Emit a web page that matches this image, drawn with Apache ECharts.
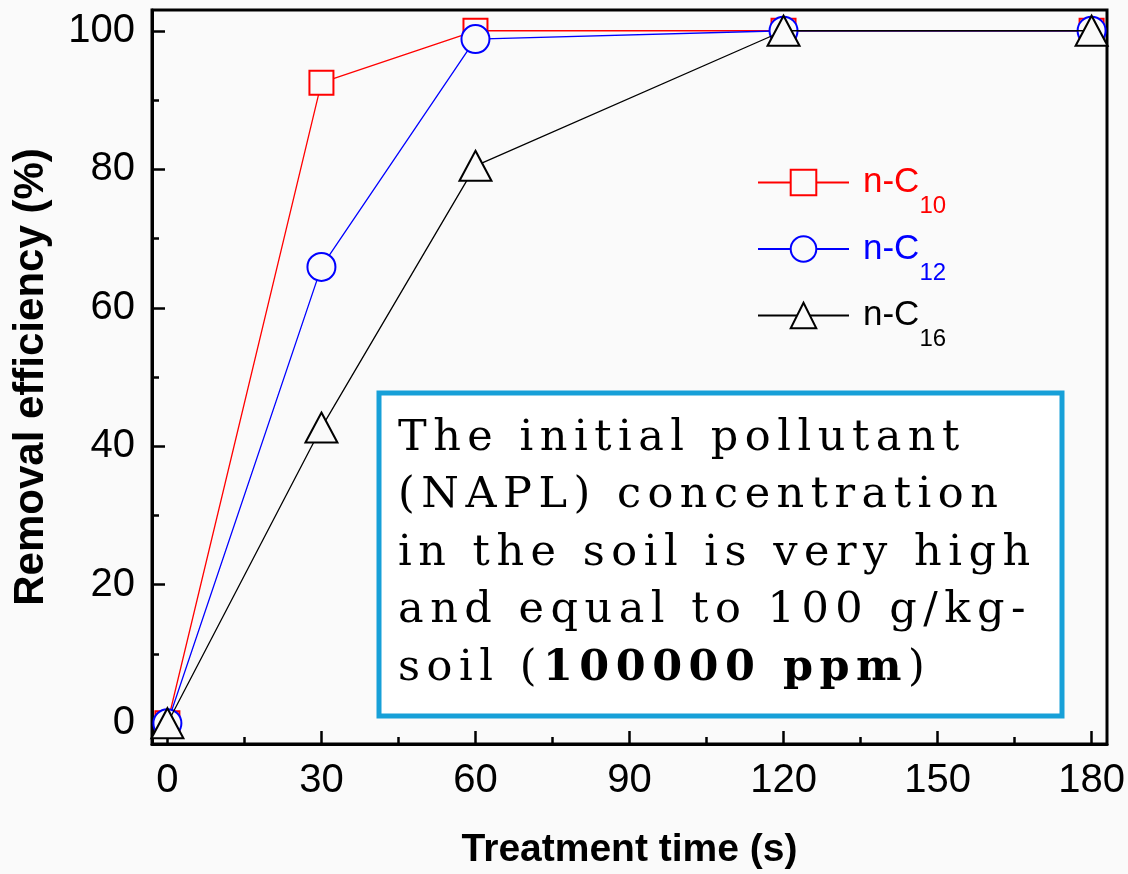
<!DOCTYPE html>
<html>
<head>
<meta charset="utf-8">
<title>Removal efficiency vs treatment time</title>
<script src="https://cdn.jsdelivr.net/npm/echarts@6/dist/echarts.min.js"></script>
<style>
  html, body { margin: 0; padding: 0; background: #fafafa; }
  #chart { width: 1128px; height: 874px; }
</style>
</head>
<body>
<div id="chart"></div>
<script>
// Treatment times (s) and removal efficiency (%) for each alkane
const times = [0, 30, 60, 120, 180];
const nC10 = [0, 92.5, 100, 100, 100];
const nC12 = [0, 65.9, 98.8, 100, 100];
const nC16 = [0, 42.7, 80.5, 100, 100];

const seriesNames = ['n-C10', 'n-C12', 'n-C16'];
const seriesSubs = ['10', '12', '16'];

// Tick positions
const xMajor = [0, 30, 60, 90, 120, 150, 180];
const xMinor = [15, 45, 75, 105, 135, 165];
const yMajor = [0, 20, 40, 60, 80, 100];
const yMinor = [10, 30, 50, 70, 90];

const noteLines = [
  'The initial pollutant',
  '(NAPL) concentration',
  'in the soil is very high',
  'and equal to 100 g/kg-',
  'soil ({b|100000 ppm})'
];

// The note is set with wide tracking; apply canvas letter spacing to its font only
const NOTE_FONT = 'DejaVu Serif';
const NOTE_TRACKING = '6.5px';
(function () {
  const proto = CanvasRenderingContext2D.prototype;
  if (!('letterSpacing' in proto)) return;
  function tracked(fn) {
    return function () {
      if (this.font && this.font.indexOf(NOTE_FONT) >= 0) {
        const prev = this.letterSpacing;
        this.letterSpacing = NOTE_TRACKING;
        const r = fn.apply(this, arguments);
        this.letterSpacing = prev;
        return r;
      }
      return fn.apply(this, arguments);
    };
  }
  proto.fillText = tracked(proto.fillText);
  proto.measureText = tracked(proto.measureText);
})();

const BG = '#fafafa';
const SANS = 'Liberation Sans, Arial, sans-serif';

function toPoints(vals) {
  return times.map((t, i) => [t, vals[i]]);
}

function lineSeries(name, vals, color, symbol, size, z) {
  return {
    name: name,
    type: 'line',
    xAxisIndex: 0,
    yAxisIndex: 0,
    data: toPoints(vals),
    symbol: symbol,
    symbolSize: size,
    showAllSymbol: true,
    z: z,
    lineStyle: { color: color, width: 1.3 },
    itemStyle: { color: BG, borderColor: color, borderWidth: 2 },
    emphasis: { disabled: true },
    animation: false
  };
}

// Legend labels: "n-C" centred on the icon; the carbon number drops below the baseline
const legendColors = ['#ff0000', '#0000ff', '#000000'];
const legendRich = {};
legendColors.forEach((c, i) => {
  legendRich['t' + i] = { color: c, fontSize: 35, fontFamily: SANS, lineHeight: 38, padding: [0, 0, 0, 9] };
  legendRich['s' + i] = { color: c, fontSize: 24, fontFamily: SANS, lineHeight: 24, padding: [0, 0, -17, 0], verticalAlign: 'bottom' };
});

const chart = echarts.init(document.getElementById('chart'), null, { renderer: 'canvas' });

chart.setOption({
  backgroundColor: BG,
  animation: false,
  grid: {
    left: 152, right: 21, top: 10, bottom: 130,
    show: true, borderColor: '#000', borderWidth: 3,
    containLabel: false,
    outerBoundsMode: 'none'
  },
  xAxis: [
    {
      type: 'value', min: -3, max: 183, position: 'bottom',
      name: 'Treatment time (s)', nameLocation: 'middle', nameGap: 87,
      nameTextStyle: { fontSize: 39, fontWeight: 'bold', fontFamily: SANS, color: '#000' },
      axisLine: { show: true, onZero: false, lineStyle: { color: '#000', width: 3 } },
      axisTick: { show: true, inside: true, length: 13, lineStyle: { color: '#000', width: 2.5 }, customValues: xMajor },
      axisLabel: { show: true, customValues: xMajor, fontSize: 40, fontFamily: SANS, color: '#000', margin: 17 },
      splitLine: { show: false }
    },
    {
      type: 'value', min: -3, max: 183, position: 'bottom',
      axisLine: { show: false, onZero: false },
      axisTick: { show: true, inside: true, length: 7, lineStyle: { color: '#000', width: 2.5 }, customValues: xMinor },
      axisLabel: { show: false },
      splitLine: { show: false }
    }
  ],
  yAxis: [
    {
      type: 'value', min: -3, max: 103, position: 'left',
      name: 'Removal efficiency (%)', nameLocation: 'middle', nameGap: 100,
      nameTextStyle: { fontSize: 42, fontWeight: 'bold', fontFamily: SANS, color: '#000' },
      axisLine: { show: true, onZero: false, lineStyle: { color: '#000', width: 3 } },
      axisTick: { show: true, inside: true, length: 13, lineStyle: { color: '#000', width: 2.5 }, customValues: yMajor },
      axisLabel: { show: true, customValues: yMajor, fontSize: 40, fontFamily: SANS, color: '#000', margin: 17 },
      splitLine: { show: false }
    },
    {
      type: 'value', min: -3, max: 103, position: 'left',
      axisLine: { show: false, onZero: false },
      axisTick: { show: true, inside: true, length: 7, lineStyle: { color: '#000', width: 2.5 }, customValues: yMinor },
      axisLabel: { show: false },
      splitLine: { show: false }
    }
  ],
  legend: {
    orient: 'vertical',
    left: 757, top: 165,
    padding: 0,
    itemWidth: 91, itemHeight: 32, itemGap: 13,
    selectedMode: false,
    data: seriesNames,
    formatter: function (name) {
      const i = seriesNames.indexOf(name);
      return '{t' + i + '|n-C}{s' + i + '|' + seriesSubs[i] + '}';
    },
    textStyle: { rich: legendRich }
  },
  graphic: [
    {
      type: 'rect',
      z: 50,
      shape: { x: 379, y: 393, width: 683, height: 323 },
      style: { fill: '#ffffff', stroke: '#17a0d8', lineWidth: 5 }
    },
    {
      type: 'text',
      z: 51,
      x: 398, y: 410,
      style: {
        text: noteLines.join('\n'),
        fontSize: 43,
        fontFamily: NOTE_FONT,
        fill: '#000',
        lineHeight: 57.5,
        verticalAlign: 'top',
        rich: {
          b: { fontSize: 43, fontFamily: NOTE_FONT, fontWeight: 'bold', fill: '#000', lineHeight: 57.5 }
        }
      }
    }
  ],
  series: [
    lineSeries(seriesNames[0], nC10, '#ff0000', 'rect', 24, 3),
    lineSeries(seriesNames[1], nC12, '#0000ff', 'circle', 28, 4),
    lineSeries(seriesNames[2], nC16, '#000000', 'triangle', [32, 30], 5)
  ]
});
</script>
</body>
</html>
